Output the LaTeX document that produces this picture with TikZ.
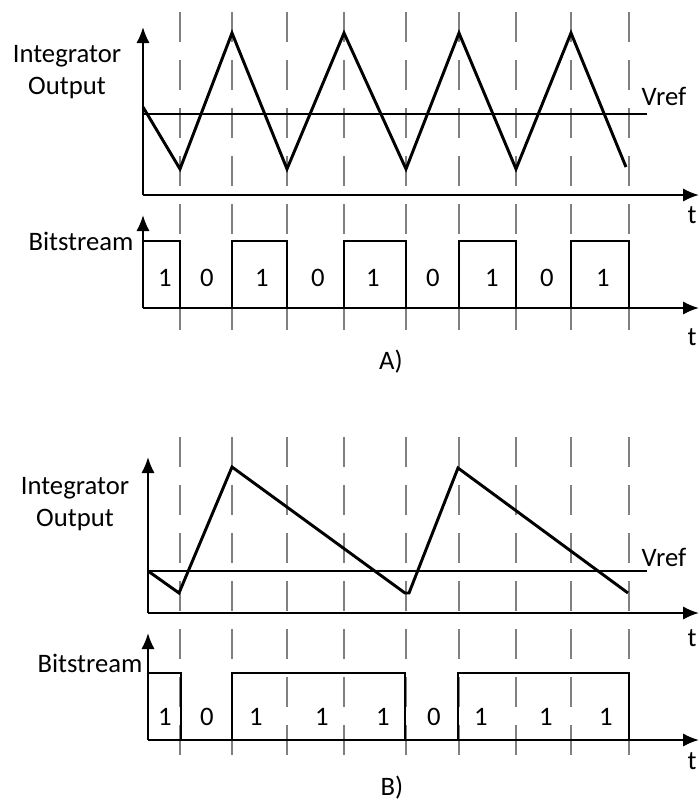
\documentclass[tikz,border=0pt]{standalone}
\usepackage{fontspec}
\setmainfont{Carlito}
\usetikzlibrary{arrows.meta}
\tikzset{
  axis/.style   = {draw, line width=1.5pt, -{Latex[length=12pt,width=10pt]}},
  wave/.style   = {draw, line width=2.2pt, line join=miter},
  clock/.style  = {draw=gray, line width=0.9pt, dash pattern=on 22.5pt off 13.5pt},
  vrefline/.style = {draw, line width=1pt},
  lbl/.style    = {font=\fontsize{20}{23.4}\selectfont, align=center, inner sep=0pt},
  bit/.style    = {lbl}
}
\begin{document}
\begin{tikzpicture}
  [
  x = 0.75pt, y = -0.75pt
  ]
  \useasboundingbox (0,0) rectangle (699,801);

  % clock edges
  \foreach \cx in {180,232,287,344,406,459,516,571,629}{
    \draw[clock] (\cx,12) -- (\cx,330);
    \draw[clock] (\cx,437) -- (\cx,755);
  }

  %%%% A)
  \coordinate (oA)   at (143,195);
  \coordinate (yA)   at (143,27);
  \coordinate (xA)   at (699,195);
  \coordinate (obA)  at (143,308);
  \coordinate (ybA)  at (143,215);
  \coordinate (xbA)  at (699,308);

  \draw[vrefline] (143,114) -- (647,114);
  \draw[wave] (143,107) -- (180,169) -- (232,33) -- (287,169) -- (344,33)
    -- (406,169) -- (459,33) -- (516,169) -- (571,33) -- (626,167);
  \draw[wave] (143,241) -- (180,241) -- (180,308) -- (232,308) -- (232,241)
    -- (287,241) -- (287,308) -- (344,308) -- (344,241) -- (406,241)
    -- (406,308) -- (459,308) -- (459,241) -- (516,241) -- (516,308)
    -- (571,308) -- (571,241) -- (629,241) -- (629,308) -- (655,308);
  \draw[axis] (oA) -- (yA);
  \draw[axis] (oA) -- (xA);
  \draw[axis] (obA) -- (ybA);
  \draw[axis] (obA) -- (xbA);

  \node[lbl] (intA)  at (67,72)   {Integrator\\Output};
  \node[lbl] (vrefA) at (664,96)  {Vref};
  \node[lbl] (tA)    at (692,215) {t};
  \node[lbl] (bsA)   at (81,241)  {Bitstream};
  \node[lbl] (tbA)   at (692,337) {t};
  \node[lbl] (capA)  at (391,362) {A)};
  \foreach \bx/\bv [count=\i] in {165/1,207/0,262/1,318/0,373/1,433/0,492/1,547/0,603/1}
    \node[bit] (bitA\i) at (\bx,278) {\bv};

  %%%% B)
  \coordinate (oB)   at (148,613);
  \coordinate (yB)   at (148,457);
  \coordinate (xB)   at (699,613);
  \coordinate (obB)  at (148,740);
  \coordinate (ybB)  at (148,633);
  \coordinate (xbB)  at (699,740);

  \draw[vrefline] (148,571) -- (647,571);
  \draw[wave] (148,571) -- (179,593) -- (232,467) -- (405,593) -- (409,593)
    -- (458,468) -- (628,593);
  \draw[wave] (148,673) -- (181,673) -- (181,740) -- (232,740) -- (232,673)
    -- (405,673) -- (405,740) -- (458,740) -- (458,673) -- (629,673)
    -- (629,740) -- (653,740);
  \draw[axis] (oB) -- (yB);
  \draw[axis] (oB) -- (xB);
  \draw[axis] (obB) -- (ybB);
  \draw[axis] (obB) -- (xbB);

  \node[lbl] (intB)  at (75,504)  {Integrator\\Output};
  \node[lbl] (vrefB) at (664,557) {Vref};
  \node[lbl] (tB)    at (692,638) {t};
  \node[lbl] (bsB)   at (90,663)  {Bitstream};
  \node[lbl] (tbB)   at (692,761) {t};
  \node[lbl] (capB)  at (392,788) {B)};
  \foreach \bx/\bv [count=\i] in {165/1,207/0,256/1,322/1,383/1,434/0,481/1,546/1,606/1}
    \node[bit] (bitB\i) at (\bx,717) {\bv};

\end{tikzpicture}
\end{document}
